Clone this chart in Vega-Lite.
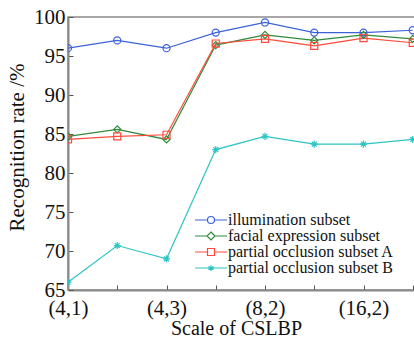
{
  "$schema": "https://vega.github.io/schema/vega-lite/v6.json",
  "width": 347,
  "height": 273,
  "autosize": "none",
  "padding": {"left": 68, "top": 17, "right": 0, "bottom": 50},
  "background": "white",
  "config": {
    "font": "Liberation Serif",
    "view": {"stroke": "#8a8a8a", "strokeWidth": 1.5},
    "axis": {
      "grid": false,
      "domainColor": "#8a8a8a",
      "domainWidth": 2,
      "tickColor": "#555555",
      "tickSize": -5,
      "labelFont": "Liberation Serif",
      "labelFontSize": 21,
      "labelColor": "#111111",
      "titleFont": "Liberation Serif",
      "titleFontSize": 21,
      "titleFontWeight": "normal",
      "titleColor": "#111111"
    }
  },
  "data": {
    "values": [
      {"scale": "(4,1)", "series": "illumination subset", "rate": 96.0},
      {"scale": "(4,2)", "series": "illumination subset", "rate": 97.0},
      {"scale": "(4,3)", "series": "illumination subset", "rate": 96.0},
      {"scale": "(8,1)", "series": "illumination subset", "rate": 98.0},
      {"scale": "(8,2)", "series": "illumination subset", "rate": 99.3},
      {"scale": "(16,1)", "series": "illumination subset", "rate": 98.0},
      {"scale": "(16,2)", "series": "illumination subset", "rate": 98.0},
      {"scale": "(16,3)", "series": "illumination subset", "rate": 98.3},
      {"scale": "(4,1)", "series": "facial expression subset", "rate": 84.7},
      {"scale": "(4,2)", "series": "facial expression subset", "rate": 85.6},
      {"scale": "(4,3)", "series": "facial expression subset", "rate": 84.3},
      {"scale": "(8,1)", "series": "facial expression subset", "rate": 96.4},
      {"scale": "(8,2)", "series": "facial expression subset", "rate": 97.7},
      {"scale": "(16,1)", "series": "facial expression subset", "rate": 97.0},
      {"scale": "(16,2)", "series": "facial expression subset", "rate": 97.7},
      {"scale": "(16,3)", "series": "facial expression subset", "rate": 97.2},
      {"scale": "(4,1)", "series": "partial occlusion subset A", "rate": 84.3},
      {"scale": "(4,2)", "series": "partial occlusion subset A", "rate": 84.7},
      {"scale": "(4,3)", "series": "partial occlusion subset A", "rate": 84.9},
      {"scale": "(8,1)", "series": "partial occlusion subset A", "rate": 96.6},
      {"scale": "(8,2)", "series": "partial occlusion subset A", "rate": 97.2},
      {"scale": "(16,1)", "series": "partial occlusion subset A", "rate": 96.3},
      {"scale": "(16,2)", "series": "partial occlusion subset A", "rate": 97.3},
      {"scale": "(16,3)", "series": "partial occlusion subset A", "rate": 96.7},
      {"scale": "(4,1)", "series": "partial occlusion subset B", "rate": 66.0},
      {"scale": "(4,2)", "series": "partial occlusion subset B", "rate": 70.7},
      {"scale": "(4,3)", "series": "partial occlusion subset B", "rate": 69.0},
      {"scale": "(8,1)", "series": "partial occlusion subset B", "rate": 83.0},
      {"scale": "(8,2)", "series": "partial occlusion subset B", "rate": 84.7},
      {"scale": "(16,1)", "series": "partial occlusion subset B", "rate": 83.7},
      {"scale": "(16,2)", "series": "partial occlusion subset B", "rate": 83.7},
      {"scale": "(16,3)", "series": "partial occlusion subset B", "rate": 84.3}
    ]
  },
  "encoding": {
    "x": {
      "field": "scale",
      "type": "ordinal",
      "sort": ["(4,1)", "(4,2)", "(4,3)", "(8,1)", "(8,2)", "(16,1)", "(16,2)", "(16,3)"],
      "scale": {"type": "point", "padding": 0, "domain": ["(4,1)", "(4,2)", "(4,3)", "(8,1)", "(8,2)", "(16,1)", "(16,2)", "(16,3)", "(32,1)"], "range": [0, 394]},
      "axis": {
        "title": "Scale of CSLBP",
        "titleFontSize": 20,
        "labelAngle": 0,
        "labelPadding": 12,
        "titlePadding": 0,
        "titleX": 168,
        "labelExpr": "indexof(['(4,1)','(4,3)','(8,2)','(16,2)'], datum.value) >= 0 ? datum.label : ''"
      }
    },
    "y": {
      "field": "rate",
      "type": "quantitative",
      "scale": {"domain": [65, 100], "nice": false, "zero": false},
      "axis": {
        "title": "Recognition rate /%",
        "values": [65, 70, 75, 80, 85, 90, 95, 100],
        "labelPadding": 8,
        "titlePadding": 6,
        "titleY": 130
      }
    }
  },
  "layer": [
    {
      "mark": {"type": "line", "strokeWidth": 1.2, "clip": true},
      "encoding": {
        "color": {
          "field": "series",
          "type": "nominal",
          "scale": {"domain": ["illumination subset", "facial expression subset", "partial occlusion subset A", "partial occlusion subset B"], "range": ["#3b62d6", "#2f8a3c", "#ff4a3a", "#2cc4c4"]},
          "legend": null
        }
      }
    },
    {
      "mark": {"type": "point", "filled": false, "strokeWidth": 1.2, "size": 50, "opacity": 1, "clip": true},
      "encoding": {
        "color": {
          "field": "series",
          "type": "nominal",
          "scale": {"domain": ["illumination subset", "facial expression subset", "partial occlusion subset A", "partial occlusion subset B"], "range": ["#3b62d6", "#2f8a3c", "#ff4a3a", "#2cc4c4"]},
          "legend": null
        },
        "shape": {
          "field": "series",
          "type": "nominal",
          "scale": {"domain": ["illumination subset", "facial expression subset", "partial occlusion subset A", "partial occlusion subset B"], "range": ["circle", "diamond", "square", "M0,-1L0,1M-1,0L1,0M-0.7,-0.7L0.7,0.7M-0.7,0.7L0.7,-0.7"]},
          "legend": null
        }
      }
    },
    {
      "mark": {"type": "point", "filled": false, "strokeWidth": 1.2, "size": 100, "opacity": 0, "clip": true},
      "encoding": {
        "color": {
          "field": "series",
          "type": "nominal",
          "scale": {"domain": ["illumination subset", "facial expression subset", "partial occlusion subset A", "partial occlusion subset B"], "range": ["#3b62d6", "#2f8a3c", "#ff4a3a", "#2cc4c4"]},
          "legend": {
            "title": null,
            "orient": "none",
            "legendX": 135,
            "legendY": 195,
            "symbolSize": 100,
            "symbolStrokeWidth": 1.2,
            "symbolOpacity": 1,
            "labelFont": "Liberation Serif",
            "labelFontSize": 16,
            "labelColor": "#111111",
            "labelOffset": 9,
            "rowPadding": -2,
            "labelLimit": 400
          }
        },
        "shape": {
          "field": "series",
          "type": "nominal",
          "scale": {"domain": ["illumination subset", "facial expression subset", "partial occlusion subset A", "partial occlusion subset B"], "range": [
            "M-3.2,0L-0.7,0M0.7,0L3.2,0M0.7,0A0.7,0.7,0,1,1,-0.7,0A0.7,0.7,0,1,1,0.7,0Z",
            "M-3.2,0L-0.8,0M0.8,0L3.2,0M0,-0.8L0.8,0L0,0.8L-0.8,0Z",
            "M-3.2,0L-0.7,0M0.7,0L3.2,0M-0.7,-0.7L0.7,-0.7L0.7,0.7L-0.7,0.7Z",
            "M-3.2,0L3.2,0M0,-0.6L0,0.6M-0.52,-0.3L0.52,0.3M-0.52,0.3L0.52,-0.3"
          ]},
          "legend": {"title": null}
        }
      }
    }
  ],
  "resolve": {"scale": {"shape": "independent", "color": "independent"}}
}
